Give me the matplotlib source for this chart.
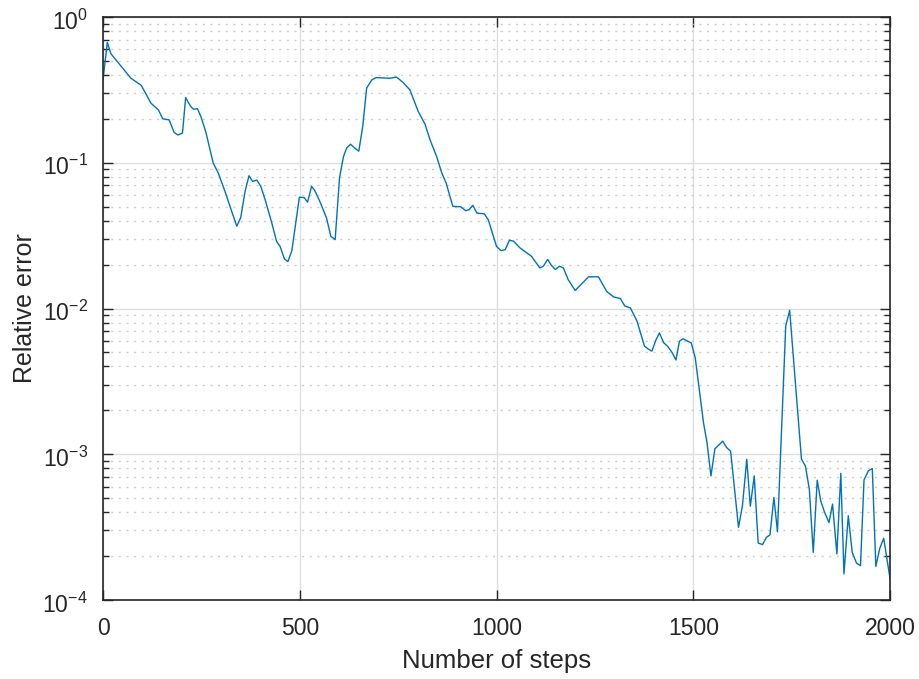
import math
import matplotlib
matplotlib.use("Agg")
import matplotlib.pyplot as plt
import matplotlib.transforms as mtransforms
from matplotlib.ticker import LogLocator, FixedLocator, NullLocator, FuncFormatter

steps = [0, 11, 20, 71, 97, 122, 141, 152, 168, 181, 191, 202, 210, 223, 230, 240, 249, 262,
         280, 293, 310, 327, 340, 350, 361, 371, 380, 391, 401, 412, 429, 441, 450, 461, 470,
         480, 499, 511, 520, 530, 538, 551, 568, 579, 590, 601, 611, 619, 629, 640, 650, 660,
         670, 683, 694, 729, 746, 763, 780, 801, 818, 831, 848, 861, 872, 889, 909, 922, 930,
         940, 950, 969, 979, 1000, 1011, 1022, 1033, 1043, 1060, 1089, 1110, 1119, 1130, 1140,
         1150, 1160, 1170, 1182, 1200, 1217, 1234, 1259, 1280, 1298, 1315, 1326, 1340, 1346,
         1357, 1366, 1376, 1387, 1395, 1405, 1414, 1425, 1435, 1446, 1456, 1465, 1474, 1484,
         1495, 1505, 1513, 1526, 1535, 1545, 1555, 1575, 1585, 1595, 1615, 1625, 1636, 1645,
         1655, 1665, 1676, 1686, 1695, 1705, 1714, 1735, 1745, 1775, 1785, 1795, 1805, 1815,
         1824, 1834, 1845, 1854, 1865, 1875, 1883, 1894, 1904, 1915, 1925, 1934, 1945, 1955,
         1964, 1974, 1984, 2000]
rel_error = [0.37, 0.67, 0.56, 0.38, 0.34, 0.256, 0.23, 0.20, 0.197, 0.161, 0.155, 0.16, 0.28,
             0.243, 0.233, 0.235, 0.207, 0.16, 0.0995, 0.085, 0.0636, 0.0464, 0.0367, 0.042,
             0.0636, 0.0815, 0.0745, 0.076, 0.0689, 0.0558, 0.0386, 0.0289, 0.0267, 0.0219,
             0.021, 0.025, 0.058, 0.0577, 0.0537, 0.0689, 0.0646, 0.0543, 0.0418, 0.0313,
             0.0297, 0.0785, 0.11, 0.126, 0.134, 0.126, 0.12, 0.177, 0.325, 0.37, 0.384, 0.38,
             0.387, 0.355, 0.316, 0.225, 0.185, 0.144, 0.11, 0.085, 0.0726, 0.0502, 0.0499,
             0.0469, 0.0476, 0.051, 0.0452, 0.0446, 0.0407, 0.0267, 0.0250, 0.0253, 0.0294,
             0.029, 0.026, 0.0228, 0.019, 0.0195, 0.0217, 0.0197, 0.0185, 0.0195, 0.019,
             0.0158, 0.0133, 0.0148, 0.0165, 0.0165, 0.0131, 0.012, 0.0117, 0.0104, 0.0101,
             0.0094, 0.0082, 0.0068, 0.00552, 0.00524, 0.0051, 0.00607, 0.0068, 0.00582,
             0.0055, 0.005, 0.00443, 0.00597, 0.0062, 0.006, 0.0058, 0.0046, 0.0031, 0.00165,
             0.0012, 0.00071, 0.00109, 0.00123, 0.00111, 0.00105, 0.000315, 0.000443,
             0.000924, 0.00044, 0.00071, 0.000246, 0.00024, 0.000269, 0.00028, 0.000505,
             0.000294, 0.00757, 0.00973, 0.000924, 0.00083, 0.000575, 0.000212, 0.000664,
             0.000479, 0.000398, 0.00034, 0.000455, 0.000207, 0.00074, 0.000151, 0.000378,
             0.000212, 0.000179, 0.000172, 0.000667, 0.000769, 0.000798, 0.00017, 0.000226,
             0.000265, 0.000141]

x_ticks = [0, 500, 1000, 1500, 2000]
y_ticks = [1e-4, 1e-3, 1e-2, 1e-1, 1e0]

plt.rcParams['font.family'] = ['Liberation Sans', 'DejaVu Sans']
plt.rcParams['mathtext.fontset'] = 'custom'
plt.rcParams['mathtext.rm'] = 'Liberation Sans'
plt.rcParams['mathtext.it'] = 'Liberation Sans'
plt.rcParams['mathtext.default'] = 'regular'

fig = plt.figure(figsize=(9.19, 6.79), dpi=100)
ax = fig.add_axes([103/919, 1 - 600/679, (890 - 103)/919, (600 - 17)/679])

ax.plot(steps, rel_error, color='#0072BD', lw=1.0)
ax.set_yscale('log')
ax.set_xlim(0, 2000)
ax.set_ylim(1e-4, 1)

ax.xaxis.set_major_locator(FixedLocator(x_ticks))
ax.xaxis.set_minor_locator(NullLocator())
ax.yaxis.set_major_locator(FixedLocator(y_ticks))
ax.yaxis.set_minor_locator(LogLocator(base=10, subs=range(2, 10), numticks=20))

def yfmt(v, pos):
    e = int(round(math.log10(v)))
    return r'$10^{%d}$' % e
ax.yaxis.set_major_formatter(FuncFormatter(yfmt))

ax.grid(True, which='major', color='#dedede', lw=1.0, ls='-')
ax.grid(True, which='minor', axis='y', color='#cccccc', lw=1.0, ls=(0, (1.5, 4)))
ax.set_axisbelow(True)

ax.tick_params(which='both', direction='in', top=True, right=True, colors='#262626',
               labelsize=16.5)
ax.tick_params(which='major', length=7, width=1.0)
ax.tick_params(which='minor', length=4, width=1.0)
ax.tick_params(axis='x', pad=12)
ax.tick_params(axis='y', pad=11)
for s in ax.spines.values():
    s.set_color('#262626')
    s.set_linewidth(1.2)

offset = mtransforms.ScaledTranslation(0, -2.5 / 100, fig.dpi_scale_trans)
for lbl in ax.get_yticklabels():
    lbl.set_transform(lbl.get_transform() + offset)

ax.set_xlabel('Number of steps', fontsize=18.5, color='#262626', labelpad=7)
ax.set_ylabel('Relative error', fontsize=18, color='#262626', labelpad=4)

fig.savefig('out.png', dpi=100)
